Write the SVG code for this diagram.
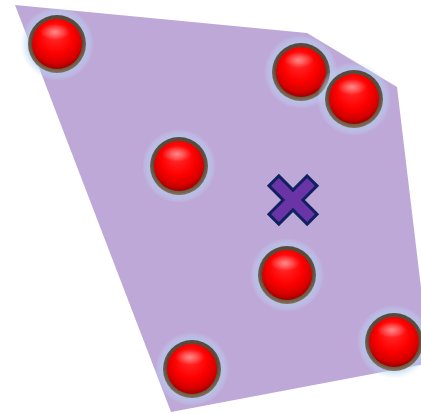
<svg xmlns="http://www.w3.org/2000/svg" width="421" height="414" viewBox="0 0 421 414">
<defs>
<radialGradient id="glow" cx="0.5" cy="0.5" r="0.5">
<stop offset="0.7" stop-color="#9cc6f2" stop-opacity="0.9"/>
<stop offset="1" stop-color="#cfe6fb" stop-opacity="0"/>
</radialGradient>
<radialGradient id="ring" cx="0.5" cy="0.45" r="0.55">
<stop offset="0.8" stop-color="#5a4a3e"/>
<stop offset="1" stop-color="#8a7258"/>
</radialGradient>
<radialGradient id="ball" cx="0.5" cy="0.4" r="0.6" fx="0.45" fy="0.3">
<stop offset="0" stop-color="#ff3030"/>
<stop offset="0.55" stop-color="#ff0000"/>
<stop offset="0.85" stop-color="#d40000"/>
<stop offset="1" stop-color="#9a0000"/>
</radialGradient>
<radialGradient id="hl" cx="0.5" cy="0.5" r="0.5">
<stop offset="0" stop-color="#ffffff" stop-opacity="0.45"/>
<stop offset="1" stop-color="#ffffff" stop-opacity="0"/>
</radialGradient>
<g id="sphere">
<circle r="37" fill="url(#glow)"/>
<circle r="29" fill="url(#ring)"/>
<circle r="25" fill="url(#ball)"/>
<ellipse cx="-2" cy="-12" rx="15" ry="8" fill="url(#hl)"/>
</g>
</defs>
<style>
.hull{fill:#bda8d8;stroke:none}
.mark{fill:#6a34a6;stroke:#102060;stroke-width:3;stroke-linejoin:miter}
</style>
<g id="hull">
<polygon class="hull" points="15,5 307,33 397,87 430,363 171,412"/>
</g>
<g id="points">
<use id="p1" href="#sphere" x="57" y="44"/>
<use id="p2" href="#sphere" x="301" y="72"/>
<use id="p3" href="#sphere" x="354" y="99"/>
<use id="p4" href="#sphere" x="179" y="166"/>
<use id="p5" href="#sphere" x="287" y="275"/>
<use id="p6" href="#sphere" x="394" y="342"/>
<use id="p7" href="#sphere" x="192" y="369"/>
</g>
<g id="centroid" transform="translate(293,200) rotate(45)">
<path class="mark" d="M-7,-27 H7 V-7 H27 V7 H7 V27 H-7 V7 H-27 V-7 H-7 Z"/>
</g>
</svg>
